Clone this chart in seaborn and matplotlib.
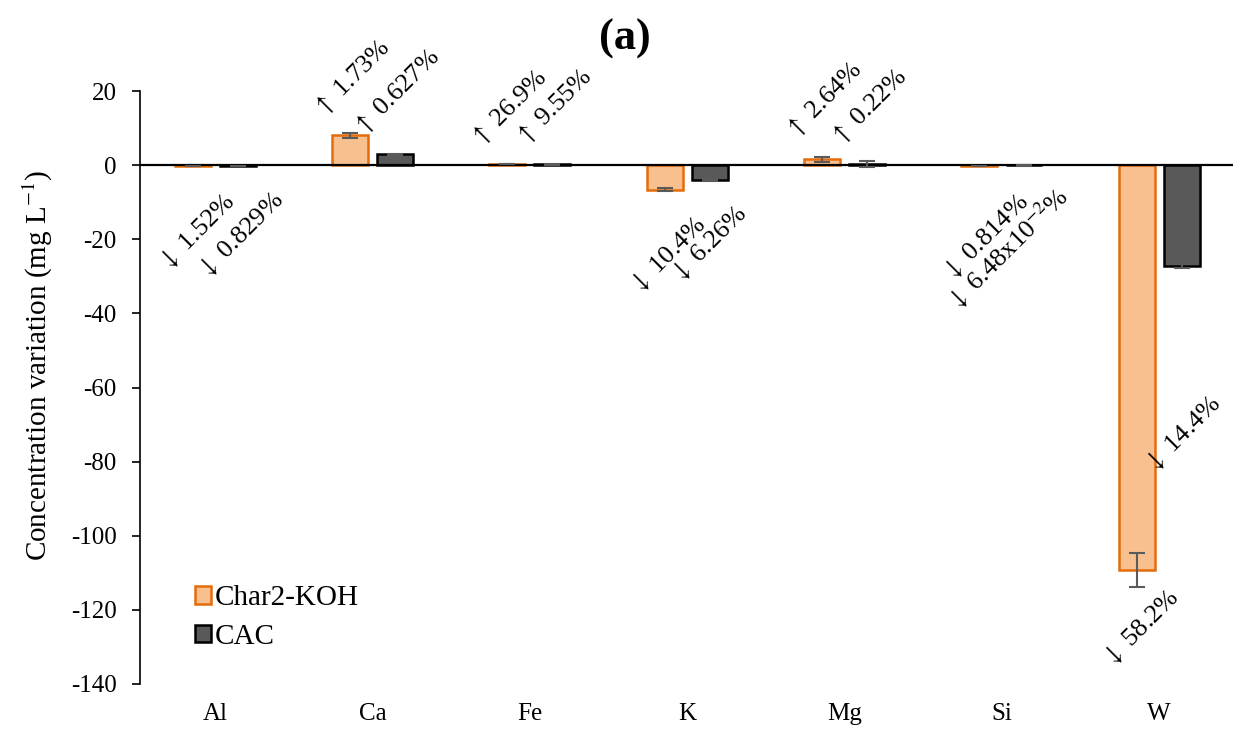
import numpy as np
import pandas as pd
import matplotlib
matplotlib.use("Agg")
import matplotlib.pyplot as plt
import seaborn as sns
from matplotlib.patches import Patch

# ---------------- data ----------------
elements = ["Al", "Ca", "Fe", "K", "Mg", "Si", "W"]
series_names = ["Char2-KOH", "CAC"]
char2_values = [-0.3, 8.0, 0.3, -6.6, 1.6, -0.2, -109.3]
cac_values = [-0.2, 2.9, 0.2, -4.0, 0.3, -0.1, -27.2]
char2_err = [0.05, 0.6, 0.05, 0.5, 0.7, 0.05, 4.6]
cac_err = [0.05, 0.15, 0.05, 0.3, 0.9, 0.05, 0.5]
char2_labels = ["↓ 1.52%", "↑ 1.73%", "↑ 26.9%", "↓ 10.4%", "↑ 2.64%", "↓ 0.814%", "↓ 58.2%"]
cac_labels = ["↓ 0.829%", "↑ 0.627%", "↑ 9.55%", "↓ 6.26%", "↑ 0.22%",
              "↓ 6.48x10$^{-2}$%", "↓ 14.4%"]
y_ticks = [20, 0, -20, -40, -60, -80, -100, -120, -140]

# ---------------- layout / style ----------------
# label offsets in pixels from bar end (dx, dy); dy sign follows bar direction
char2_label_offset = [(5, 66), (2, 58), (2, 56), (4, 65), (2, 59), (7, 71), (5, 58)]
cac_label_offset = [(3, 69), (2, 62), (2, 58), (0, 64), (2, 57), (-17, 83), (2, 168)]

sns.set_style("white")
plt.rcParams["font.family"] = ["Liberation Serif", "DejaVu Serif"]
plt.rcParams["mathtext.fontset"] = "stix"
plt.rcParams["axes.unicode_minus"] = False
for key in ["text.color", "axes.labelcolor", "xtick.color", "ytick.color"]:
    plt.rcParams[key] = "black"

orange_fill = "#F8C08F"
orange_edge = "#E46C0A"
dark_fill = "#595959"
dark_edge = "#000000"
err_color = "#5A5A5A"

df = pd.DataFrame({
    "element": elements * 2,
    "sample": [series_names[0]] * len(elements) + [series_names[1]] * len(elements),
    "value": char2_values + cac_values,
})

W, H = 1233, 729
fig = plt.figure(figsize=(W / 100, H / 100), dpi=100)
ax = fig.add_axes([140 / W, (H - 684) / H, (W - 140) / W, (684 - 91) / H])

sns.barplot(data=df, x="element", y="value", hue="sample", order=elements,
            hue_order=series_names, palette=[orange_fill, dark_fill],
            errorbar=None, width=0.572, gap=0.2, ax=ax, legend=False,
            linewidth=1.8, saturation=1)

containers = list(ax.containers)
edges = [orange_edge, dark_edge]
errs = [char2_err, cac_err]
vals = [char2_values, cac_values]
labels = [char2_labels, cac_labels]
offsets = [char2_label_offset, cac_label_offset]


def fmt_label(s):
    return s.replace("↑", r"$\uparrow$").replace("↓", r"$\downarrow$")


for k, cont in enumerate(containers):
    xs = []
    for p in cont.patches:
        p.set_edgecolor(edges[k])
        p.set_linewidth(1.8)
        xs.append(p.get_x() + p.get_width() / 2)
    ax.errorbar(xs, vals[k], yerr=errs[k], fmt="none", ecolor=err_color,
                elinewidth=1.5, capsize=6, capthick=1.5, zorder=5)
    for i, x in enumerate(xs):
        v = vals[k][i]
        dx, dy = offsets[k][i]
        sgn = 1 if labels[k][i].startswith("↑") else -1
        ax.annotate(fmt_label(labels[k][i]), xy=(x, v), xytext=(dx, sgn * dy),
                    textcoords="offset pixels", ha="center", va="center",
                    rotation=45, fontsize=19, color="black",
                    annotation_clip=False)

ax.axhline(0, color="black", lw=1.6, zorder=4)
ax.set_ylim(-140, 20)
ax.set_xlim(-0.477, 6.47)
ax.set_yticks(y_ticks)
ax.set_yticklabels([str(t) for t in y_ticks], fontsize=18)
ax.tick_params(axis="y", direction="out", length=6, width=1.2, left=True, pad=11)
ax.tick_params(axis="x", length=0, labelsize=18, pad=14)
ax.set_xlabel("")
ax.set_ylabel("Concentration variation (mg L$^{-1}$)", fontsize=21)
ax.yaxis.set_label_coords(-0.078, 0.538)
for s in ["top", "right", "bottom"]:
    ax.spines[s].set_visible(False)
ax.spines["left"].set_color("black")
ax.spines["left"].set_linewidth(1.2)

ax.set_title("(a)", fontsize=32, fontweight="bold", pad=30, x=0.444)

handles = [Patch(facecolor=orange_fill, edgecolor=orange_edge, linewidth=1.8),
           Patch(facecolor=dark_fill, edgecolor=dark_edge, linewidth=1.8)]
ax.legend(handles, series_names, loc="lower left", bbox_to_anchor=(0.05, 0.058),
          frameon=False, fontsize=21, handlelength=0.55, handleheight=0.55,
          handletextpad=0.15, labelspacing=0.42, borderaxespad=0, borderpad=0)

fig.savefig("out.png", dpi=100)
